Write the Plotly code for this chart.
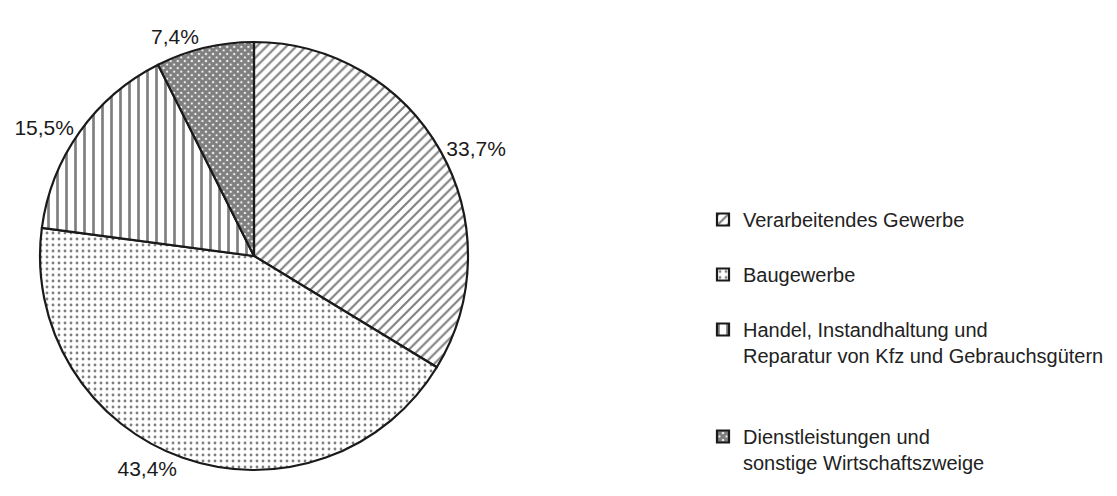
import plotly.graph_objects as go

categories = [
    "Verarbeitendes Gewerbe",
    "Baugewerbe",
    "Handel, Instandhaltung und<br>Reparatur von Kfz und Gebrauchsgütern",
    "Dienstleistungen und<br>sonstige Wirtschaftszweige",
]
# extra blank lines reproduce the legend spacing of the original
legend_labels = [
    categories[0] + "<br>\u00a0",
    categories[1] + "<br>\u00a0",
    categories[2] + "<br>\u00a0<br>\u00a0",
    categories[3],
]
values = [33.7, 43.4, 15.5, 7.4]
value_text = [f"{v:.1f}".replace(".", ",") + "%" for v in values]

shapes = ["/", ".", "|", "x"]
pattern_sizes = [7, 6, 9, 5]
pattern_solidity = [0.3, 0.18, 0.3, 0.85]

fig = go.Figure(
    go.Pie(
        labels=legend_labels,
        values=values,
        text=value_text,
        textinfo="text",
        textposition="outside",
        sort=False,
        direction="clockwise",
        rotation=0,
        hole=0,
        domain=dict(x=[32 / 1117, 460 / 1117], y=[34 / 496, 462 / 496]),
        marker=dict(
            colors=["white"] * 4,
            line=dict(color="#1a1a1a", width=2.2),
            pattern=dict(
                shape=shapes,
                size=pattern_sizes,
                solidity=pattern_solidity,
                fgcolor="#000000",
                bgcolor="white",
                fillmode="overlay",
            ),
        ),
        outsidetextfont=dict(size=21, color="#1a1a1a", family="Liberation Sans, Arial, sans-serif"),
        showlegend=True,
    )
)

fig.update_layout(
    width=1117,
    height=496,
    margin=dict(l=0, r=0, t=0, b=0),
    paper_bgcolor="white",
    plot_bgcolor="white",
    font=dict(family="Liberation Sans, Arial, sans-serif", color="#222222"),
    legend=dict(
        x=695 / 1117,
        y=1 - 192 / 496,
        xanchor="left",
        yanchor="top",
        valign="top",
        font=dict(size=20, color="#222222"),
        bgcolor="rgba(0,0,0,0)",
        traceorder="normal",
    ),
)

fig.write_html("out.html")
